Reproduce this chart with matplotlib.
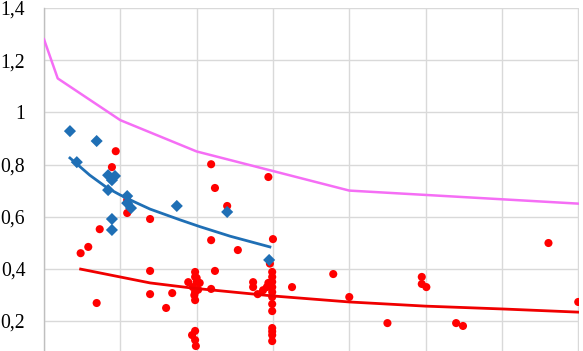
import matplotlib.pyplot as plt

# Red circles
red_x = [9.4, 8.9, 10.9, 10.9, 13.9, 7.3, 5.8, 4.8, 6.9, 13.9, 13.9, 16.0, 16.8, 18.9,
         21.9, 22.4, 24.0, 29.4, 21.9, 25.4, 30.0, 22.4, 21.9,
         19.8, 19.8, 20.0, 20.4, 19.5, 19.8, 19.7, 19.8, 20.0, 20.2,
         19.8, 19.4, 19.8, 19.9,
         29.6, 29.9, 29.9, 29.4, 29.9, 29.2, 29.9, 29.9, 29.9, 29.9, 29.9,
         27.4, 27.4, 28.0, 28.7, 32.5,
         29.9, 29.9, 29.9, 29.9,
         37.9, 40.0, 45.0, 49.5, 49.5, 50.1, 54.0, 54.9, 66.1, 70.0]
red_y = [0.851, 0.790, 0.664, 0.614, 0.591, 0.552, 0.484, 0.460, 0.269, 0.392, 0.303, 0.250, 0.307, 0.349,
         0.801, 0.710, 0.641, 0.752, 0.510, 0.472, 0.514, 0.392, 0.323,
         0.388, 0.369, 0.350, 0.346, 0.330, 0.311, 0.299, 0.280, 0.365, 0.320,
         0.162, 0.146, 0.127, 0.104,
         0.420, 0.388, 0.369, 0.346, 0.350, 0.330, 0.330, 0.311, 0.292, 0.265, 0.238,
         0.349, 0.330, 0.303, 0.318, 0.330,
         0.173, 0.160, 0.146, 0.123,
         0.380, 0.292, 0.192, 0.369, 0.342, 0.330, 0.192, 0.181, 0.499, 0.273]

# Blue diamonds
blue_x = [3.4, 4.3, 6.9, 8.4, 9.3, 8.9, 8.4, 10.9, 10.9, 11.4, 8.9, 8.9, 17.4, 24.0, 29.5]
blue_y = [0.928, 0.809, 0.890, 0.759, 0.756, 0.740, 0.702, 0.679, 0.652, 0.633, 0.591, 0.549, 0.641, 0.618, 0.434]

# Magenta limit line
lim_x = [0, 1.8, 10, 20, 40, 70]
lim_y = [1.28, 1.13, 0.97, 0.85, 0.70, 0.65]

# Trend curves
blue_tr_x = [3.4, 6.0, 8.3, 10.0, 11.9, 13.9, 17.8, 20.4, 24.4, 29.6]
blue_tr_y = [0.825, 0.759, 0.710, 0.683, 0.656, 0.629, 0.588, 0.562, 0.525, 0.484]
red_tr_x = [4.8, 13.9, 19.5, 30, 40, 50, 60.2, 70]
red_tr_y = [0.399, 0.346, 0.326, 0.296, 0.273, 0.257, 0.246, 0.234]

y_ticks = [0.2, 0.4, 0.6, 0.8, 1.0, 1.2, 1.4]
y_labels = ['0,2', '0,4', '0,6', '0,8', '1', '1,2', '1,4']

fig = plt.figure(figsize=(5.83, 3.51), dpi=100)
ax = fig.add_axes([44 / 583, 0, 535 / 583, 343 / 351])

ax.scatter(red_x, red_y, s=34, c='#FF0000', edgecolors='none', zorder=3)
ax.scatter(blue_x, blue_y, s=38, marker='D', c='#1F6FB5', edgecolors='none', zorder=4)
ax.plot(lim_x, lim_y, color='#F56EF5', lw=1.8, zorder=5)
ax.plot(blue_tr_x, blue_tr_y, color='#1F6FB5', lw=2.0, zorder=5)
ax.plot(red_tr_x, red_tr_y, color='#F00000', lw=2.0, zorder=5)

ax.set_xlim(0, 70.1)
ax.set_ylim(0.085, 1.4)
ax.set_xticks(range(0, 71, 10))
ax.set_xticklabels([])
ax.set_yticks(y_ticks)
ax.set_yticklabels(y_labels, fontfamily='Liberation Serif', fontsize=14.2)
ax.tick_params(length=0, pad=13.5)
ax.grid(True, color='#D9D9D9', lw=1.0, zorder=0)
ax.set_axisbelow(True)
for s in ['top', 'right', 'bottom']:
    ax.spines[s].set_visible(False)
ax.spines['left'].set_color('#BFBFBF')
ax.spines['left'].set_linewidth(1.0)

fig.savefig('out.png', dpi=100)
